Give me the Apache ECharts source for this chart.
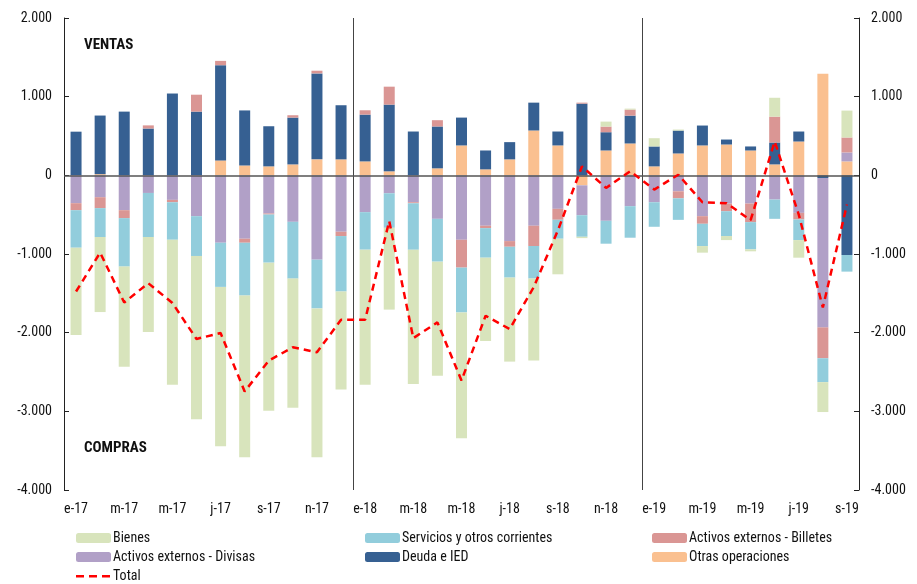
<!DOCTYPE html>
<html>
<head>
<meta charset="utf-8">
<script src="https://cdn.jsdelivr.net/npm/echarts@6/dist/echarts.min.js"></script>
<style>
  html, body { margin: 0; padding: 0; background: #fff; }
  #main { width: 917px; height: 584px; }
</style>
</head>
<body>
<div id="main"></div>
<script>
var meses = ['e-17','f-17','m-17','a-17','m-17','j-17','j-17','a-17','s-17','o-17','n-17','d-17',
             'e-18','f-18','m-18','a-18','m-18','j-18','j-18','a-18','s-18','o-18','n-18','d-18',
             'e-19','f-19','m-19','a-19','m-19','j-19','j-19','a-19','s-19'];

var bienes = [-1110,-954,-1274,-1207,-1844,-2076,-2026,-2055,-1882,-1642,-1891,-1245,
              -1718,-1040,-1705,-1452,-1599,-1059,-1068,-1042,-452,-17,63,13,
              105,13,-84,-51,-25,240,-224,-380,342];
var servicios = [-477,-367,-616,-561,-477,-506,-561,-671,-612,-722,-620,-705,
                 -477,-439,-591,-544,-570,-376,-392,-414,-241,-274,-291,-401,
                 -312,-274,-283,-316,-346,-245,-262,-304,-211];
var billetes = [-89,-139,-101,40,-30,215,55,-51,-13,30,34,-55,
                55,228,-13,80,-354,-30,-72,-257,-139,13,72,76,
                0,-89,-97,-97,-236,329,-84,-392,190];
var divisas = [-354,-278,-443,-224,-312,-519,-857,-806,-485,-591,-1072,-717,
               -468,-228,-342,-553,-819,-641,-836,-641,-426,-380,-578,-392,
               -342,-203,-519,-359,-359,-308,-477,-1899,114];
var deuda = [555,745,810,595,1040,810,1210,700,510,595,1093,688,
             595,848,557,532,354,240,219,354,177,911,232,354,
             253,291,253,63,51,278,127,-34,-1013];
var otras = [0,15,0,0,0,0,190,125,114,139,203,203,
             177,51,0,89,380,76,203,570,380,-127,316,405,
             114,278,380,392,316,139,430,1291,177];
var total = [-1477,-983,-1616,-1372,-1623,-2080,-2005,-2747,-2355,-2186,-2249,-1836,
             -1836,-582,-2070,-1869,-2608,-1785,-1954,-1420,-701,114,-160,51,
             -181,8,-342,-354,-570,430,-500,-1680,-371];

var fuente = "'Liberation Sans Narrow', 'Roboto Condensed', 'Roboto', sans-serif";

function miles(v) {
  var s = Math.abs(v).toString().replace(/\B(?=(\d{3})+(?!\d))/g, '.');
  return (v < 0 ? '-' : '') + s;
}

function barra(nombre, datos, color) {
  return {
    name: nombre,
    type: 'bar',
    stack: 'total',
    barWidth: 11,
    data: datos,
    itemStyle: { color: color },
    emphasis: { disabled: true }
  };
}

// leyenda en tres columnas, como en el original
function leyenda(items, x) {
  return {
    data: items, orient: 'vertical', left: x, top: 531, height: 60, padding: 0,
    itemWidth: 35, itemHeight: 10, itemGap: 5,
    textStyle: { fontSize: 14, color: '#111', fontFamily: fuente, padding: [0, 0, 0, -3] }
  };
}

var iconoTotal = 'path://M0,0 M0,4h8v2.5h-8z M13,4h8v2.5h-8z M26,4h8v2.5h-8z M35,10';

var myChart = echarts.init(document.getElementById('main'));

var ejeY = {
  type: 'value',
  min: -4000,
  max: 2000,
  interval: 1000,
  axisLine: { show: true, lineStyle: { color: '#222', width: 1 } },
  axisTick: { show: true, inside: true, length: 5, lineStyle: { color: '#222' } },
  splitLine: { show: false },
  axisLabel: { color: '#111', fontSize: 14, fontFamily: fuente, formatter: miles, margin: 12 }
};

var option = {
  animation: false,
  grid: { left: 64, right: 58, top: 18, bottom: 94 },
  title: [
    { text: 'VENTAS', left: 84, top: 38, padding: 0,
      textStyle: { fontSize: 15, fontWeight: 'bold', color: '#111', fontFamily: fuente } },
    { text: 'COMPRAS', left: 84, top: 441, padding: 0,
      textStyle: { fontSize: 15, fontWeight: 'bold', color: '#111', fontFamily: fuente } }
  ],
  legend: [
    leyenda(['Bienes', 'Activos externos - Divisas', { name: 'Total', icon: iconoTotal }], 76),
    leyenda(['Servicios y otros corrientes', 'Deuda e IED'], 365),
    leyenda(['Activos externos - Billetes', 'Otras operaciones'], 652)
  ],
  xAxis: {
    type: 'category',
    data: meses,
    position: 'bottom',
    axisLine: { show: false, onZero: false },
    axisTick: { show: false },
    splitLine: {
      show: true,
      interval: function (i) { return i === 12 || i === 24; },
      lineStyle: { color: '#444', width: 1 }
    },
    axisLabel: { interval: 1, color: '#111', fontSize: 14, fontFamily: fuente, margin: 12 }
  },
  yAxis: [
    Object.assign({}, ejeY, { position: 'left' }),
    Object.assign({}, ejeY, { position: 'right' })
  ],
  series: [
    barra('Otras operaciones', otras, '#fac090'),
    barra('Deuda e IED', deuda, '#366092'),
    barra('Activos externos - Divisas', divisas, '#b1a0c7'),
    barra('Activos externos - Billetes', billetes, '#da9694'),
    barra('Servicios y otros corrientes', servicios, '#92cddc'),
    barra('Bienes', bienes, '#d8e4bc'),
    {
      name: 'Total',
      type: 'line',
      data: total,
      symbol: 'none',
      z: 5,
      lineStyle: { color: '#ff0000', width: 2.5, type: [7, 5] },
      itemStyle: { color: '#ff0000' },
      markLine: {
        silent: true,
        symbol: 'none',
        label: { show: false },
        lineStyle: { color: '#555', width: 1.5, type: 'solid' },
        data: [{ yAxis: 0 }]
      }
    }
  ]
};

myChart.setOption(option);
</script>
</body>
</html>
